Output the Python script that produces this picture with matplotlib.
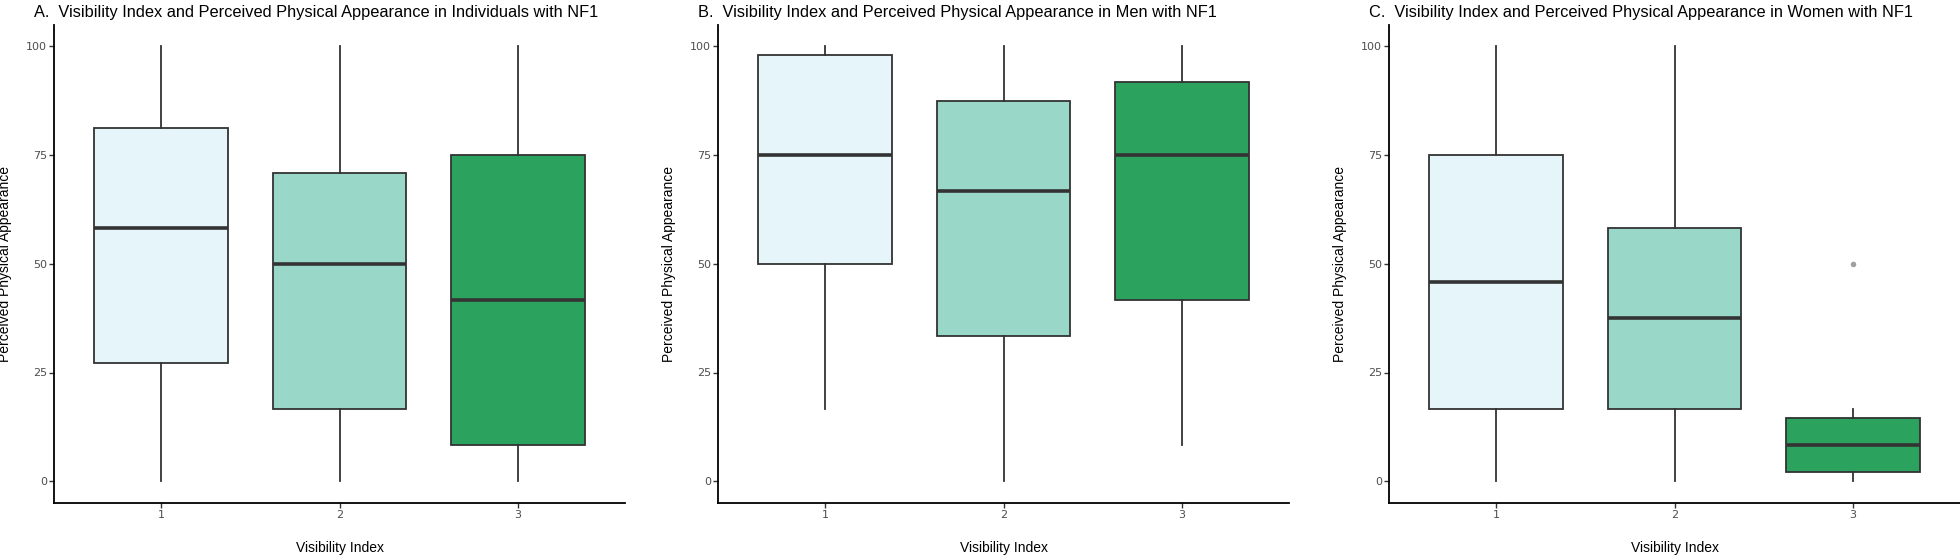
import matplotlib
matplotlib.use("Agg")
import matplotlib.pyplot as plt

# Visibility index groups
categories = ["1", "2", "3"]
box_colors = ["#E5F5F9", "#99D8C9", "#2CA25F"]

titles = [
    "A.  Visibility Index and Perceived Physical Appearance in Individuals with NF1",
    "B.  Visibility Index and Perceived Physical Appearance in Men with NF1",
    "C.  Visibility Index and Perceived Physical Appearance in Women with NF1",
]

# boxplot stats per panel, per group
whislo = [[0, 0, 0], [16.7, 0, 8.3], [0, 0, 0]]
q1 = [[27.1, 16.7, 8.3], [50.0, 33.3, 41.7], [16.7, 16.7, 2.1]]
med = [[58.3, 50.0, 41.7], [75.0, 66.7, 75.0], [45.8, 37.5, 8.3]]
q3 = [[81.3, 70.8, 75.0], [97.9, 87.5, 91.7], [75.0, 58.3, 14.6]]
whishi = [[100, 100, 100], [100, 100, 100], [100, 100, 16.7]]
outliers = [[[], [], []], [[], [], []], [[], [], [50.0]]]

yticks = [0, 25, 50, 75, 100]

W, H = 1960, 555
fig = plt.figure(figsize=(W / 100, H / 100), dpi=100)

ax_left_px = [54, 718, 1389]
ax_w_px = 571
ax_bottom = 1 - 503 / H
ax_top = 1 - 24.5 / H

edge = "#333333"

for p in range(3):
    ax = fig.add_axes([ax_left_px[p] / W, ax_bottom, ax_w_px / W, ax_top - ax_bottom])
    stats = []
    for i in range(3):
        stats.append(dict(whislo=whislo[p][i], q1=q1[p][i], med=med[p][i],
                          q3=q3[p][i], whishi=whishi[p][i], fliers=outliers[p][i]))
    bp = ax.bxp(stats, positions=[1, 2, 3], widths=0.75, patch_artist=True,
                showcaps=False, showfliers=True,
                boxprops=dict(edgecolor=edge, linewidth=1.3),
                whiskerprops=dict(color=edge, linewidth=1.3),
                medianprops=dict(color=edge, linewidth=2.6, solid_capstyle="butt"),
                flierprops=dict(marker="o", markersize=4, markerfacecolor="#A0A0A0",
                                markeredgecolor="none"))
    for patch, c in zip(bp["boxes"], box_colors):
        patch.set_facecolor(c)

    ax.set_xlim(0.4, 3.6)
    ax.set_ylim(-5, 105)
    ax.set_xticks([1, 2, 3])
    ax.set_xticklabels(categories)
    ax.set_yticks(yticks)
    ax.set_yticklabels([str(t) for t in yticks])
    ax.tick_params(axis="both", length=3.3, width=1, color="#333333",
                   labelsize=8, labelcolor="#4D4D4D", pad=1.7)
    for s in ["top", "right"]:
        ax.spines[s].set_visible(False)
    for s in ["left", "bottom"]:
        ax.spines[s].set_linewidth(1.3)
        ax.spines[s].set_color("black")

    ax.set_xlabel("Visibility Index", fontsize=10, family="Liberation Sans", labelpad=15)
    ax.set_ylabel("Perceived Physical Appearance", fontsize=10, family="Liberation Sans", labelpad=10)

    fig.text((ax_left_px[p] - 20) / W, 1 - 12 / H, titles[p], ha="left", va="center",
             fontsize=11.8, family="Liberation Sans")

fig.savefig("out.png", dpi=100, facecolor="white")
